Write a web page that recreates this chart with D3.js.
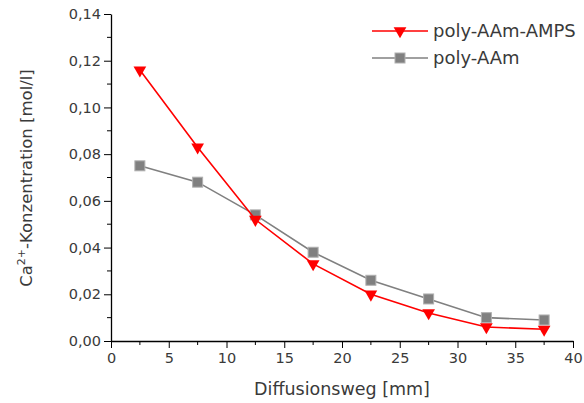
<!DOCTYPE html>
<html><head><meta charset="utf-8">
<script src="https://cdn.jsdelivr.net/npm/d3@7"></script>
<style>
body{margin:0;background:#fff;}
svg{display:block;font-family:"DejaVu Sans",sans-serif;}
</style></head>
<body><svg id="c" width="584" height="403"></svg>
<script>
const xValues = [2.5, 7.5, 12.5, 17.5, 22.5, 27.5, 32.5, 37.5];
const ampsValues = [0.116, 0.083, 0.052, 0.033, 0.020, 0.012, 0.006, 0.005];
const aamValues = [0.075, 0.068, 0.054, 0.038, 0.026, 0.018, 0.010, 0.009];
const seriesNames = ["poly-AAm-AMPS", "poly-AAm"];
const xTicks = [0, 5, 10, 15, 20, 25, 30, 35, 40];
const yTicks = [0, 0.02, 0.04, 0.06, 0.08, 0.10, 0.12, 0.14];
const xTitle = "Diffusionsweg [mm]";

const svg = d3.select("#c");
const FONT = "'DejaVu Sans',sans-serif";
const x = d3.scaleLinear().domain([0, 40]).range([111, 573]);
const y = d3.scaleLinear().domain([0, 0.14]).range([341, 14]);
const txt = "#3a3a3a";
const fmt = d => d.toFixed(2).replace(".", ",");

const xMinor = d3.range(2.5, 40, 5);
const yMinor = d3.range(0.01, 0.14, 0.02);
const gx = svg.append("g").attr("transform", "translate(0,341)");
gx.call(d3.axisBottom(x).tickValues(xTicks).tickSize(7).tickSizeOuter(0).tickPadding(5).tickFormat(d3.format("d")));
gx.append("g").selectAll("line").data(xMinor).join("line")
  .attr("x1", d => x(d)).attr("x2", d => x(d)).attr("y1", 0).attr("y2", 4).attr("stroke", "#000");
const gy = svg.append("g").attr("transform", "translate(111,0)");
gy.call(d3.axisLeft(y).tickValues(yTicks).tickSize(7).tickSizeOuter(0).tickPadding(3).tickFormat(fmt));
gy.append("g").selectAll("line").data(yMinor).join("line")
  .attr("y1", d => y(d)).attr("y2", d => y(d)).attr("x1", 0).attr("x2", -4).attr("stroke", "#000");
[gx, gy].forEach(g => {
  g.select(".domain").attr("stroke", "#000").attr("stroke-width", 1.3);
  g.selectAll(".tick line").attr("stroke", "#000");
  g.selectAll("text").attr("fill", txt).style("font-size", "14.5px").style("font-family", FONT);
});

svg.append("text").attr("x", 342).attr("y", 395).attr("text-anchor", "middle")
  .attr("fill", txt).style("font-size", "17.5px").text(xTitle);
const yl = svg.append("text").attr("transform", "translate(32,178) rotate(-90)")
  .attr("text-anchor", "middle").attr("fill", txt).style("font-size", "16.5px");
yl.append("tspan").text("Ca");
yl.append("tspan").attr("dy", -7).style("font-size", "11px").text("2+");
yl.append("tspan").attr("dy", 7).text("-Konzentration [mol/l]");

const line = d3.line().x(d => x(d[0])).y(d => y(d[1]));
const aamData = xValues.map((v, i) => [v, aamValues[i]]);
const ampsData = xValues.map((v, i) => [v, ampsValues[i]]);
const gray = "#808080", red = "#ff0000";
const tri = d3.symbol().type(d3.symbolTriangle).size(70);
const sq = 10;

svg.append("path").attr("d", line(aamData)).attr("fill", "none").attr("stroke", gray).attr("stroke-width", 1.6);
svg.append("g").selectAll("rect").data(aamData).join("rect")
  .attr("x", d => x(d[0]) - sq / 2).attr("y", d => y(d[1]) - sq / 2).attr("width", sq).attr("height", sq)
  .attr("fill", gray).attr("stroke", "#b0b0b0").attr("stroke-width", 1);
svg.append("path").attr("d", line(ampsData)).attr("fill", "none").attr("stroke", red).attr("stroke-width", 1.6);
svg.append("g").selectAll("path").data(ampsData).join("path")
  .attr("d", tri).attr("transform", d => `translate(${x(d[0])},${y(d[1])}) rotate(180)`)
  .attr("fill", red);

const lg = svg.append("g");
const items = [{name: seriesNames[0], color: red, ty: 31}, {name: seriesNames[1], color: gray, ty: 58}];
items.forEach((it, i) => {
  lg.append("line").attr("x1", 372).attr("x2", 428).attr("y1", it.ty).attr("y2", it.ty)
    .attr("stroke", it.color).attr("stroke-width", 1.6);
  if (i === 0) lg.append("path").attr("d", tri).attr("transform", `translate(400,${it.ty}) rotate(180)`).attr("fill", red);
  else lg.append("rect").attr("x", 400 - sq / 2).attr("y", it.ty - sq / 2).attr("width", sq).attr("height", sq)
    .attr("fill", gray).attr("stroke", "#b0b0b0");
  lg.append("text").attr("x", 433).attr("y", it.ty + 6).attr("fill", txt).style("font-size", "18px").text(it.name);
});
</script></body></html>
